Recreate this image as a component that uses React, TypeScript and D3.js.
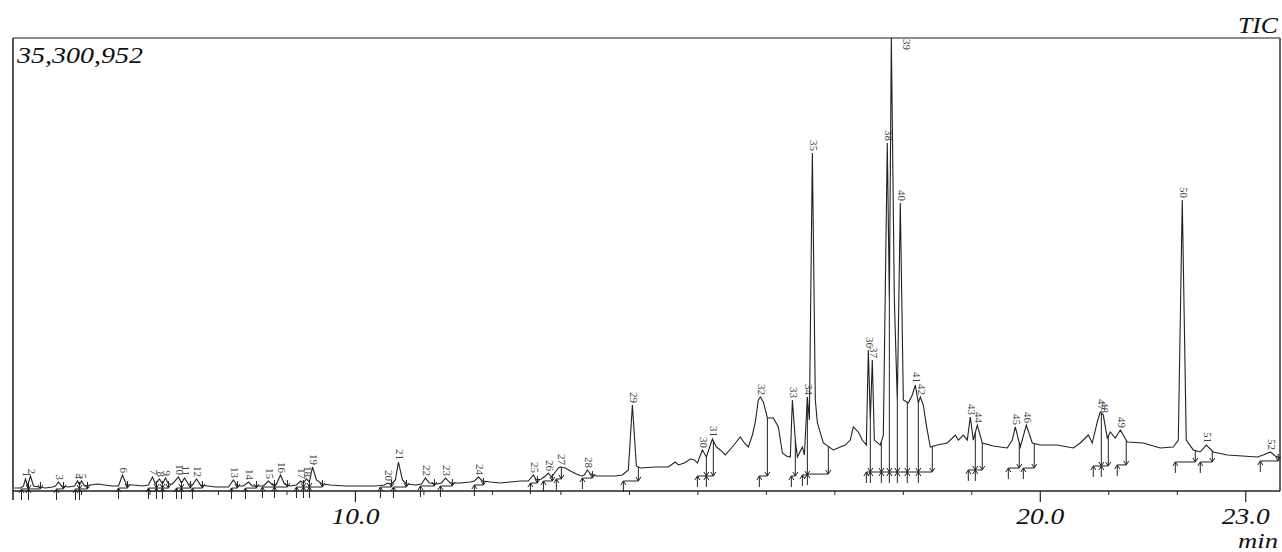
import React from 'react'
import * as d3 from 'd3'

// TIC trace, retention time (min) and intensity (millions of counts)
const traceTime = [
  5.022, 5.109, 5.153, 5.182, 5.212, 5.255, 5.299, 5.372, 5.474, 5.577, 5.620, 5.664, 5.708, 5.810, 5.898,
  5.942, 5.971, 6.000, 6.044, 6.131, 6.234, 6.336, 6.453, 6.540, 6.599, 6.657, 6.759, 6.891, 6.978, 7.036,
  7.080, 7.139, 7.182, 7.226, 7.270, 7.328, 7.416, 7.460, 7.504, 7.562, 7.620, 7.679, 7.737, 7.839, 7.956,
  8.058, 8.146, 8.219, 8.277, 8.365, 8.438, 8.496, 8.584, 8.657, 8.730, 8.788, 8.847, 8.905, 8.964, 9.051,
  9.139, 9.197, 9.241, 9.285, 9.328, 9.372, 9.431, 9.518, 9.635, 9.854, 10.073, 10.292, 10.423, 10.467, 10.526,
  10.584, 10.628, 10.686, 10.745, 10.876, 10.964, 11.022, 11.080, 11.197, 11.255, 11.314, 11.387, 11.533, 11.679, 11.737,
  11.796, 11.854, 11.971, 12.117, 12.263, 12.409, 12.526, 12.599, 12.642, 12.715, 12.774, 12.818, 12.861, 12.920, 12.964,
  12.993, 13.066, 13.139, 13.226, 13.299, 13.343, 13.387, 13.431, 13.518, 13.650, 13.796, 13.898, 13.985, 14.044, 14.102,
  14.161, 14.380, 14.569, 14.628, 14.672, 14.715, 14.803, 14.891, 14.949, 14.993, 15.066, 15.124, 15.212, 15.270, 15.328,
  15.401, 15.489, 15.562, 15.620, 15.679, 15.737, 15.796, 15.839, 15.883, 15.912, 15.956, 16.015, 16.102, 16.175, 16.234,
  16.292, 16.350, 16.380, 16.423, 16.453, 16.526, 16.555, 16.599, 16.628, 16.672, 16.715, 16.745, 16.832, 16.978, 17.080,
  17.153, 17.226, 17.270, 17.343, 17.401, 17.460, 17.489, 17.518, 17.547, 17.577, 17.664, 17.708, 17.766, 17.796, 17.825,
  17.869, 17.912, 17.956, 18.000, 18.073, 18.131, 18.175, 18.219, 18.248, 18.292, 18.336, 18.394, 18.496, 18.642, 18.759,
  18.803, 18.876, 18.934, 18.978, 19.022, 19.080, 19.153, 19.314, 19.518, 19.591, 19.635, 19.708, 19.796, 19.883, 20.000,
  20.248, 20.482, 20.584, 20.701, 20.759, 20.832, 20.876, 20.920, 20.978, 21.022, 21.095, 21.168, 21.270, 21.504, 21.752,
  21.942, 22.015, 22.073, 22.131, 22.234, 22.336, 22.423, 22.526, 22.730, 23.168, 23.255, 23.358, 23.431, 23.504
]
const traceValue = [
  0.23, 0.23, 0.39, 0.94, 0.39, 1.17, 0.39, 0.31, 0.23, 0.31, 0.39, 0.70, 0.39, 0.31, 0.39,
  0.78, 0.47, 0.78, 0.39, 0.47, 0.55, 0.47, 0.39, 0.39, 1.25, 0.47, 0.47, 0.39, 0.47, 1.09,
  0.55, 0.94, 0.55, 1.01, 0.55, 0.55, 1.09, 0.62, 1.01, 0.55, 0.47, 0.94, 0.47, 0.39, 0.31,
  0.31, 0.31, 0.86, 0.39, 0.39, 0.70, 0.39, 0.39, 0.39, 0.78, 0.47, 0.55, 1.25, 0.55, 0.39,
  0.47, 0.78, 0.62, 0.94, 0.70, 1.87, 0.86, 0.55, 0.47, 0.39, 0.39, 0.39, 0.47, 0.62, 0.55,
  0.86, 2.26, 0.86, 0.55, 0.47, 0.55, 1.01, 0.62, 0.55, 0.62, 1.01, 0.62, 0.62, 0.70, 0.78,
  1.09, 0.78, 0.70, 0.62, 0.70, 0.78, 0.78, 1.25, 0.86, 0.94, 1.17, 1.40, 1.09, 1.48, 1.79,
  1.87, 1.79, 1.56, 1.32, 1.17, 1.25, 1.64, 1.32, 1.17, 1.17, 1.17, 1.25, 1.64, 6.70, 1.95,
  1.79, 1.87, 1.87, 2.10, 2.26, 2.03, 2.18, 2.49, 2.42, 2.18, 3.20, 2.65, 4.05, 3.43, 3.20,
  2.81, 3.35, 3.82, 4.21, 3.74, 3.43, 4.36, 5.38, 7.09, 7.33, 6.94, 5.69, 5.69, 4.99, 2.96,
  2.73, 2.65, 7.09, 3.97, 2.65, 3.43, 2.81, 7.33, 5.53, 26.34, 7.09, 5.30, 3.74, 3.20, 3.43,
  3.58, 3.97, 4.99, 4.60, 3.97, 3.58, 10.99, 5.53, 10.21, 3.97, 3.58, 4.36, 27.12, 14.88, 35.30,
  14.88, 7.09, 22.44, 7.09, 6.86, 7.48, 8.26, 6.86, 7.33, 6.70, 5.14, 3.43, 3.58, 3.74, 4.36,
  3.97, 4.36, 3.97, 5.77, 3.97, 5.14, 3.74, 3.51, 3.35, 3.97, 4.99, 3.43, 5.14, 3.74, 3.58,
  3.58, 3.35, 3.74, 4.36, 3.74, 5.38, 6.16, 5.92, 4.13, 4.60, 4.13, 4.75, 3.82, 3.74, 3.35,
  3.43, 3.97, 22.68, 3.97, 3.20, 3.04, 3.58, 3.04, 2.81, 2.65, 2.81, 3.04, 2.73, 2.57
]

// integrated peaks
const peakIds = [
  1, 2, 3, 4, 5, 6, 7, 8, 9, 10, 11, 12, 13, 14, 15, 16, 17, 18, 19, 20, 21, 22, 23, 24, 25, 26,
  27, 28, 29, 30, 31, 32, 33, 34, 35, 36, 37, 38, 39, 40, 41, 42, 43, 44, 45, 46, 47, 48, 49, 50, 51, 52
]
const peakTime = [
  5.182, 5.255, 5.664, 5.942, 6.000, 6.599, 7.036, 7.139, 7.226, 7.416, 7.504, 7.679, 8.219, 8.438, 8.730, 8.905,
  9.197, 9.285, 9.372, 10.467, 10.628, 11.022, 11.314, 11.796, 12.599, 12.818, 12.993, 13.387, 14.044, 15.066, 15.212,
  15.912, 16.380, 16.599, 16.672, 17.489, 17.547, 17.766, 17.825, 17.956, 18.175, 18.248, 18.978, 19.080, 19.635,
  19.796, 20.876, 20.920, 21.168, 22.073, 22.423, 23.358
]
const peakHeight = [
  0.94, 1.17, 0.70, 0.78, 0.78, 1.25, 1.09, 0.94, 1.01, 1.09, 1.01, 0.94, 0.86, 0.70, 0.78, 1.25,
  0.78, 0.94, 1.87, 0.62, 2.26, 1.01, 1.01, 1.09, 1.25, 1.40, 1.87, 1.64, 6.70, 3.20, 4.05,
  7.33, 7.09, 7.33, 26.34, 10.99, 10.21, 27.12, 35.30, 22.44, 8.26, 7.33, 5.77, 5.14, 4.99,
  5.14, 6.16, 5.92, 4.75, 22.68, 3.58, 3.04
]
const peakStart = [
  5.124, 5.226, 5.635, 5.912, 5.971, 6.540, 6.978, 7.095, 7.182, 7.387, 7.460, 7.620, 8.190, 8.394, 8.642, 8.818,
  9.139, 9.241, 9.328, 10.365, 10.555, 10.949, 11.241, 11.737, 12.555, 12.745, 12.934, 13.314, 13.912, 14.993, 15.124,
  15.898, 16.365, 16.526, 16.599, 17.460, 17.518, 17.679, 17.796, 17.912, 18.058, 18.219, 18.949, 19.051, 19.533,
  19.752, 20.774, 20.891, 21.124, 21.971, 22.336, 23.212
]
const peakEnd = [
  5.226, 5.401, 5.737, 5.971, 6.088, 6.672, 7.095, 7.182, 7.270, 7.460, 7.591, 7.766, 8.277, 8.555, 8.818, 9.007,
  9.241, 9.328, 9.518, 10.526, 10.745, 11.153, 11.416, 11.869, 12.657, 12.876, 13.007, 13.460, 14.131, 15.124, 15.226,
  16.015, 16.423, 16.599, 16.905, 17.518, 17.679, 17.796, 17.912, 18.058, 18.219, 18.423, 19.051, 19.153, 19.693,
  19.912, 20.891, 20.993, 21.255, 22.263, 22.511, 23.474
]
const peakBase = [
  0.16, 0.16, 0.16, 0.16, 0.16, 0.23, 0.23, 0.23, 0.23, 0.23, 0.23, 0.23, 0.23, 0.23, 0.31, 0.31,
  0.31, 0.31, 0.31, 0.31, 0.31, 0.39, 0.39, 0.47, 0.62, 0.78, 0.94, 1.01, 0.78, 1.17, 1.17,
  1.17, 1.17, 1.25, 1.32, 1.48, 1.48, 1.48, 1.48, 1.48, 1.48, 1.48, 1.64, 1.64, 1.79,
  1.79, 1.95, 1.95, 2.03, 2.26, 2.26, 2.34
]

const maxCounts = 35.300952
const minorTicks = [6, 7, 8, 9, 11, 12, 13, 14, 15, 16, 17, 18, 19, 21, 22]
const majorTicks = [10, 20, 23]
const majorLabels = ['10.0', '20.0', '23.0']

const W = 1282
const H = 552
const left = 13
const right = 1280
const top = 38
const bottom = 491
const serif = '"Liberation Serif", "DejaVu Serif", serif'
const ink = '#222'

export default function App () {
  const x = d3.scaleLinear().domain([5.0, 23.5]).range([left, right])
  const y = d3.scaleLinear().domain([0, maxCounts]).range([bottom, top])

  const pts: [number, number][] = traceTime.map((t, i) => [t, traceValue[i]])
  const line = d3.line<[number, number]>().x(d => x(d[0])).y(d => y(d[1]))

  const valueAt = (t: number) => {
    const i = d3.bisectLeft(traceTime, t)
    if (i <= 0) return traceValue[0]
    if (i >= traceTime.length) return traceValue[traceTime.length - 1]
    const t0 = traceTime[i - 1]
    const t1 = traceTime[i]
    const k = (t - t0) / (t1 - t0)
    return traceValue[i - 1] + k * (traceValue[i] - traceValue[i - 1])
  }

  return (
    <svg width={W} height={H} style={{ position: 'absolute', left: 0, top: 0, display: 'block', background: '#fff' }}>
      <defs>
        <clipPath id='plot'>
          <rect x={left} y={top} width={right - left} height={bottom - top + 14} />
        </clipPath>
      </defs>

      {/* frame */}
      <line x1={left} y1={top} x2={right} y2={top} stroke='#666' strokeWidth={1.5} />
      <line x1={right} y1={top} x2={right} y2={bottom} stroke='#666' strokeWidth={2} />
      <line x1={left} y1={top} x2={left} y2={500} stroke='#555' strokeWidth={2} />
      <line x1={left} y1={bottom} x2={right} y2={bottom} stroke='#222' strokeWidth={1.5} />

      {/* ticks */}
      {minorTicks.map(v => (
        <line key={'m' + v} x1={x(v)} x2={x(v)} y1={bottom} y2={bottom + 4} stroke={ink} />
      ))}
      {majorTicks.map((v, i) => (
        <g key={'M' + v}>
          <line x1={x(v)} x2={x(v)} y1={bottom} y2={bottom + 11} stroke={ink} strokeWidth={1.2} />
          <text x={x(v) - 24} y={524} fontFamily={serif} fontStyle='italic' fontSize={24}
            textLength={48} lengthAdjust='spacingAndGlyphs' fill='#111'>{majorLabels[i]}</text>
        </g>
      ))}

      {/* trace */}
      <g clipPath='url(#plot)'>
        <path d={line(pts) || ''} fill='none' stroke={ink} strokeWidth={1.1} />
      </g>

      {/* integration marks */}
      <g stroke={ink} strokeWidth={1} fill='none'>
        {peakIds.map((id, i) => {
          const xs = x(peakStart[i])
          const xe = x(peakEnd[i])
          const yb = y(peakBase[i])
          const ye = Math.min(y(valueAt(peakEnd[i])), yb - 7)
          return (
            <g key={'b' + id}>
              <line x1={xs} y1={yb} x2={xe} y2={yb} />
              <line x1={xs} y1={yb + 11} x2={xs} y2={yb} />
              <path d={`M${xs - 2.5},${yb + 4}L${xs},${yb}L${xs + 2.5},${yb + 4}`} />
              <line x1={xe} y1={ye} x2={xe} y2={yb} />
              <path d={`M${xe - 2.5},${yb - 4}L${xe},${yb}L${xe + 2.5},${yb - 4}`} />
            </g>
          )
        })}
      </g>

      {/* peak numbers */}
      {peakIds.map((id, i) => {
        const px = x(peakTime[i])
        const py = y(peakHeight[i])
        if (py - 14 < top) {
          return (
            <text key={'l' + id} transform={`translate(${px + 12},${top + 1}) rotate(90)`}
              fontFamily={serif} fontSize={11} fill='#444'>{id}</text>
          )
        }
        return (
          <text key={'l' + id} transform={`translate(${px - 2.5},${py - 2}) rotate(90)`}
            textAnchor='end' fontFamily={serif} fontSize={11} fill='#444'>{id}</text>
        )
      })}

      {/* titles */}
      <text x={17} y={63} fontFamily={serif} fontStyle='italic' fontSize={24}
        textLength={126} lengthAdjust='spacingAndGlyphs' fill='#111'>35,300,952</text>
      <text x={1238} y={33} fontFamily={serif} fontStyle='italic' fontSize={24}
        textLength={40} lengthAdjust='spacingAndGlyphs' fill='#111'>TIC</text>
      <text x={1238} y={548} fontFamily={serif} fontStyle='italic' fontSize={20}
        textLength={40} lengthAdjust='spacingAndGlyphs' fill='#111'>min</text>
    </svg>
  )
}
